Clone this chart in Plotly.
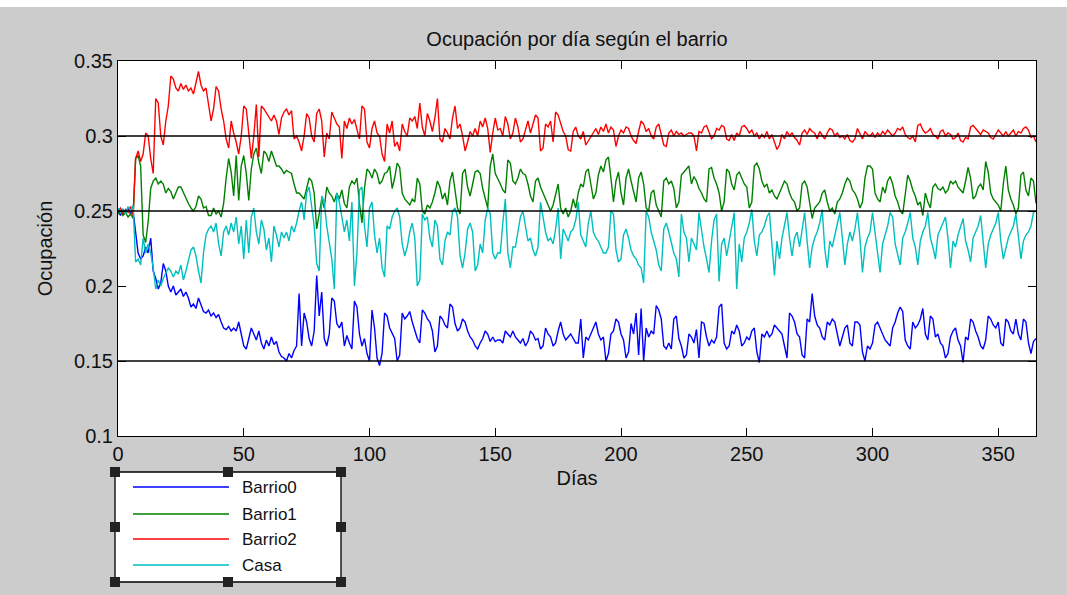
import plotly.graph_objects as go

days = list(range(0, 366))

# Values in thousandths
barrio0 = [
    250, 247, 251, 249, 252, 248, 250, 234, 222, 218,
    220, 226, 222, 232, 210, 205, 198, 202, 215, 210,
    200, 196, 200, 194, 196, 198, 193, 196, 192, 186,
    188, 185, 192, 188, 183, 182, 184, 180, 182, 179,
    181, 176, 172, 171, 173, 170, 172, 170, 176, 168,
    160, 158, 165, 172, 168, 164, 170, 162, 158, 164,
    160, 166, 161, 163, 156, 153, 152, 150, 155, 152,
    157, 160, 195, 160, 182, 176, 165, 160, 170, 207,
    180, 196, 165, 160, 168, 192, 190, 175, 172, 176,
    160, 167, 162, 158, 190, 186, 168, 160, 165, 155,
    150, 184, 172, 152, 147, 155, 182, 180, 172, 168,
    165, 150, 154, 182, 178, 180, 183, 176, 170, 165,
    162, 184, 182, 178, 176, 170, 156, 160, 180, 178,
    174, 172, 188, 186, 175, 170, 172, 178, 176, 170,
    166, 164, 160, 158, 162, 165, 170, 168, 163, 166,
    163, 164, 164, 162, 170, 168, 166, 170, 166, 164,
    162, 165, 160, 163, 170, 168, 164, 165, 158, 160,
    172, 168, 166, 160, 162, 170, 176, 168, 164, 166,
    168, 165, 162, 162, 178, 152, 166, 164, 168, 172,
    176, 168, 164, 166, 150, 155, 168, 170, 178, 176,
    168, 164, 152, 156, 175, 168, 182, 154, 185, 150,
    172, 166, 170, 168, 187, 184, 178, 160, 158, 162,
    158, 178, 180, 165, 160, 152, 154, 168, 166, 162,
    171, 152, 176, 175, 166, 160, 164, 162, 166, 186,
    188, 162, 158, 160, 170, 168, 174, 170, 160, 162,
    166, 164, 170, 172, 156, 149, 168, 166, 170, 166,
    168, 174, 172, 170, 168, 160, 152, 182, 180, 176,
    168, 166, 154, 152, 178, 176, 195, 180, 174, 172,
    166, 164, 176, 174, 178, 176, 168, 160, 166, 172,
    174, 162, 160, 176, 176, 174, 156, 150, 160, 158,
    162, 174, 176, 172, 168, 164, 162, 160, 172, 176,
    182, 186, 183, 164, 160, 158, 176, 172, 174, 178,
    185, 168, 164, 180, 178, 166, 168, 162, 160, 152,
    155, 166, 170, 172, 164, 160, 149, 166, 164, 178,
    176, 170, 166, 160, 158, 164, 180, 178, 174, 172,
    176, 162, 160, 178, 176, 170, 168, 178, 168, 164,
    178, 176, 162, 155, 163, 165,
]

barrio1 = [
    248, 250, 247, 249, 246, 248, 245, 285, 287, 280,
    234, 229, 243, 265, 270, 272, 268, 270, 268, 262,
    265, 263, 258, 262, 266, 266, 262, 259, 255, 252,
    250, 253, 260, 258, 252, 253, 247, 247, 252, 248,
    250, 246, 255, 272, 285, 276, 260, 287, 257, 280,
    287, 275, 257, 278, 288, 292, 282, 275, 290, 288,
    283, 290, 285, 280, 280, 278, 275, 277, 276, 275,
    268, 262, 262, 260, 258, 265, 272, 270, 262, 238,
    248, 258, 252, 266, 262, 260, 256, 262, 258, 264,
    255, 252, 266, 270, 268, 272, 255, 242, 265, 278,
    276, 272, 278, 275, 268, 270, 275, 276, 280, 265,
    272, 282, 279, 262, 258, 256, 254, 258, 256, 272,
    268, 250, 248, 254, 252, 256, 262, 270, 266, 258,
    262, 254, 270, 276, 262, 252, 248, 275, 278, 266,
    260, 268, 276, 277, 275, 265, 258, 252, 280, 288,
    275, 272, 268, 264, 262, 284, 282, 270, 268, 272,
    278, 275, 274, 268, 260, 256, 270, 272, 266, 262,
    258, 255, 250, 254, 262, 268, 252, 248, 252, 246,
    250, 258, 252, 262, 268, 266, 276, 278, 268, 258,
    262, 274, 280, 276, 284, 286, 272, 256, 270, 276,
    262, 254, 272, 278, 270, 262, 256, 272, 276, 268,
    252, 250, 262, 264, 254, 250, 246, 270, 272, 268,
    270, 265, 252, 256, 274, 276, 278, 280, 268, 273,
    270, 265, 262, 258, 256, 278, 279, 272, 268, 262,
    250, 256, 278, 276, 268, 264, 274, 276, 272, 268,
    266, 252, 256, 280, 282, 278, 270, 266, 268, 262,
    264, 260, 258, 262, 266, 270, 268, 262, 258, 256,
    250, 252, 268, 270, 266, 256, 245, 252, 254, 256,
    262, 264, 256, 250, 252, 248, 256, 258, 262, 268,
    272, 270, 264, 262, 258, 252, 256, 272, 280, 280,
    278, 262, 258, 256, 266, 262, 270, 273, 268, 260,
    256, 250, 248, 262, 274, 270, 264, 260, 254, 256,
    247, 262, 256, 252, 266, 268, 265, 264, 266, 262,
    264, 270, 268, 270, 266, 264, 262, 270, 279, 272,
    258, 260, 266, 268, 264, 283, 276, 262, 258, 256,
    254, 250, 268, 280, 264, 258, 254, 248, 252, 274,
    276, 264, 260, 272, 270, 255,
]

barrio2 = [
    250, 252, 248, 251, 249, 253, 247, 285, 290, 283,
    288, 302, 300, 285, 275, 325, 322, 300, 294, 310,
    320, 340, 338, 332, 330, 335, 331, 334, 330, 332,
    328, 336, 343, 334, 330, 332, 322, 310, 318, 333,
    330, 318, 310, 298, 292, 310, 302, 296, 288, 300,
    320, 318, 302, 285, 300, 321, 286, 320, 318, 315,
    312, 310, 314, 310, 301, 312, 316, 318, 314, 317,
    298, 300, 296, 290, 300, 315, 312, 300, 296, 315,
    318, 310, 286, 302, 298, 316, 312, 308, 306, 285,
    310, 305, 312, 308, 311, 304, 298, 320, 318, 296,
    292, 305, 310, 302, 300, 288, 283, 308, 302, 310,
    293, 296, 290, 308, 303, 300, 312, 310, 313, 305,
    322, 306, 300, 315, 310, 303, 312, 325, 298, 296,
    305, 302, 298, 312, 320, 305, 308, 300, 290, 296,
    303, 300, 305, 300, 310, 306, 312, 305, 289, 302,
    312, 304, 305, 300, 313, 308, 298, 302, 312, 306,
    296, 298, 305, 310, 302, 308, 314, 312, 290, 292,
    308, 306, 310, 296, 316, 314, 308, 303, 300, 291,
    290, 303, 306, 300, 298, 303, 294, 297, 300, 303,
    305, 301, 306, 303, 308, 302, 306, 304, 293, 300,
    304, 302, 306, 305, 300, 297, 295, 303, 310, 308,
    303, 305, 300, 298, 306, 308, 300, 294, 293, 302,
    304, 300, 303, 301, 302, 300, 301, 302, 302, 300,
    290, 303, 302, 306, 307, 302, 298, 300, 305, 304,
    307, 306, 298, 297, 301, 297, 302, 300, 306, 307,
    305, 302, 304, 300, 302, 298, 301, 299, 303, 298,
    301, 296, 291, 294, 301, 298, 303, 300, 302, 299,
    297, 294, 302, 304, 301, 305, 303, 302, 298, 303,
    300, 298, 302, 305, 304, 300, 302, 299, 300, 298,
    301, 297, 296, 298, 305, 301, 298, 303, 301, 300,
    302, 299, 302, 300, 303, 301, 304, 302, 300, 302,
    305, 304, 306, 301, 299, 298, 300, 296, 307, 308,
    304, 302, 303, 305, 301, 300, 298, 303, 304, 300,
    302, 301, 298, 299, 302, 297, 296, 299, 298, 306,
    307, 305, 303, 301, 304, 303, 302, 299, 298, 301,
    304, 302, 300, 303, 300, 302, 304, 300, 303, 302,
    305, 306, 304, 299, 300, 296,
]

casa = [
    252, 249, 251, 248, 253, 250, 254, 216, 218, 214,
    232, 222, 228, 222, 212, 198, 204, 200, 205, 208,
    212, 210, 206, 210, 208, 214, 204, 210, 218, 224,
    226, 220, 210, 202, 222, 234, 238, 240, 236, 242,
    228, 220, 236, 240, 234, 242, 236, 246, 228, 240,
    218, 244, 222, 246, 252, 236, 228, 244, 238, 224,
    232, 216, 240, 234, 226, 236, 232, 236, 230, 240,
    236, 242, 250, 256, 244, 262, 266, 254, 240, 215,
    210, 260, 256, 240, 228, 218, 198, 262, 256, 246,
    236, 244, 230, 256, 200, 222, 264, 266, 240, 226,
    252, 256, 234, 222, 232, 212, 206, 240, 238, 246,
    250, 252, 246, 228, 220, 226, 236, 242, 232, 200,
    204, 248, 244, 246, 232, 226, 244, 240, 218, 214,
    230, 236, 234, 250, 252, 246, 220, 212, 222, 238,
    242, 236, 210, 214, 228, 222, 244, 252, 248, 222,
    218, 222, 222, 242, 258, 222, 212, 226, 226, 236,
    246, 250, 240, 230, 232, 224, 220, 226, 256, 246,
    236, 230, 232, 228, 238, 252, 218, 238, 234, 230,
    236, 238, 244, 256, 234, 230, 226, 242, 250, 236,
    232, 230, 226, 222, 222, 226, 250, 248, 224, 216,
    218, 234, 238, 232, 224, 220, 218, 214, 212, 202,
    250, 246, 236, 230, 224, 214, 210, 238, 242, 236,
    228, 222, 218, 206, 248, 236, 232, 216, 232, 228,
    224, 249, 236, 226, 218, 209, 230, 244, 248, 203,
    228, 232, 220, 230, 242, 249, 198, 228, 216, 232,
    236, 242, 251, 230, 220, 234, 236, 240, 246, 249,
    228, 207, 230, 218, 232, 240, 249, 232, 220, 232,
    236, 226, 238, 249, 230, 212, 226, 232, 236, 242,
    251, 225, 212, 230, 226, 234, 240, 249, 232, 214,
    228, 236, 230, 238, 249, 232, 209, 226, 232, 236,
    249, 236, 220, 209, 228, 234, 240, 249, 246, 228,
    220, 214, 232, 236, 242, 249, 232, 226, 214, 230,
    236, 240, 249, 232, 226, 218, 234, 238, 242, 246,
    232, 212, 230, 226, 234, 240, 245, 230, 224, 216,
    232, 236, 240, 247, 230, 212, 228, 234, 238, 242,
    249, 230, 218, 226, 232, 236, 240, 248, 232, 218,
    230, 234, 236, 240, 249, 250,
]

series_names = ["Barrio0", "Barrio1", "Barrio2", "Casa"]
series_values = [barrio0, barrio1, barrio2, casa]
series_colors = ["#0000ff", "#008000", "#ff0000", "#00bfbf"]
ref_levels = [0.15, 0.25, 0.30]
x_ticks = [0, 50, 100, 150, 200, 250, 300, 350]
y_ticks = [0.1, 0.15, 0.2, 0.25, 0.3, 0.35]

FONT = "Liberation Sans, Arial"

fig = go.Figure()
for name, vals, col in zip(series_names, series_values, series_colors):
    fig.add_trace(go.Scatter(
        x=days, y=[v / 1000 for v in vals], mode="lines", name=name,
        line=dict(color=col, width=1.4), showlegend=False,
    ))
for lv in ref_levels:
    fig.add_trace(go.Scatter(
        x=[0, 365], y=[lv, lv], mode="lines",
        line=dict(color="black", width=1.4), showlegend=False, hoverinfo="skip",
    ))

# geometry helpers (pixel -> paper)
L, R, T, B = 118, 1036, 61, 436
W, H = R - L, B - T
def px(X):
    return (X - L) / W
def py(Y):
    return (B - Y) / H

shapes = []
# white strip at top of the window
shapes.append(dict(type="rect", xref="paper", yref="paper",
                   x0=px(0), x1=px(1067), y0=py(7), y1=py(0),
                   fillcolor="white", line=dict(width=0), layer="below"))
# legend box
shapes.append(dict(type="rect", xref="paper", yref="paper",
                   x0=px(115), x1=px(341), y0=py(582), y1=py(472),
                   fillcolor="white", line=dict(color="black", width=1.3)))
leg_y = [487, 514, 539, 565]
annotations = []
for name, col, yy in zip(series_names, series_colors, leg_y):
    shapes.append(dict(type="line", xref="paper", yref="paper",
                       x0=px(133), x1=px(229), y0=py(yy), y1=py(yy),
                       line=dict(color=col, width=1.3)))
    annotations.append(dict(text=name, xref="paper", yref="paper",
                            x=px(240), y=py(yy), xanchor="left", yanchor="middle",
                            showarrow=False,
                            font=dict(family=FONT, size=17, color="#111")))
# selection handles
for hx, hy in [(115, 472), (228, 472), (341, 472), (115, 527), (341, 527),
               (115, 582), (228, 582), (341, 582)]:
    shapes.append(dict(type="rect", xref="paper", yref="paper",
                       x0=px(hx - 5), x1=px(hx + 5), y0=py(hy + 5), y1=py(hy - 5),
                       fillcolor="#222222", line=dict(color="#222222", width=0)))

fig.update_layout(
    width=1067, height=595,
    margin=dict(l=L, r=1067 - R, t=T, b=595 - B),
    paper_bgcolor="#cccccc", plot_bgcolor="white",
    font=dict(family=FONT, size=20, color="#111"),
    title=dict(text="Ocupación por día según el barrio", x=0.5, xref="paper",
               y=1 - 39 / 595, yanchor="middle",
               font=dict(size=20, color="#111")),
    shapes=shapes, annotations=annotations,
    showlegend=False,
)
fig.update_xaxes(
    range=[0, 365], tickvals=x_ticks, ticks="inside", ticklen=8, tickcolor="black",
    showline=True, linecolor="black", linewidth=1, mirror="ticks",
    showgrid=False, zeroline=False, tickfont=dict(size=20),
    title=dict(text="Días", standoff=6, font=dict(size=20)),
)
fig.update_yaxes(
    range=[0.1, 0.35], tickvals=y_ticks, ticks="inside", ticklen=8, tickcolor="black",
    showline=True, linecolor="black", linewidth=1, mirror="ticks",
    showgrid=False, zeroline=False, tickfont=dict(size=20),
    title=dict(text="Ocupación", standoff=16, font=dict(size=20)),
)

fig.write_html("out.html")
